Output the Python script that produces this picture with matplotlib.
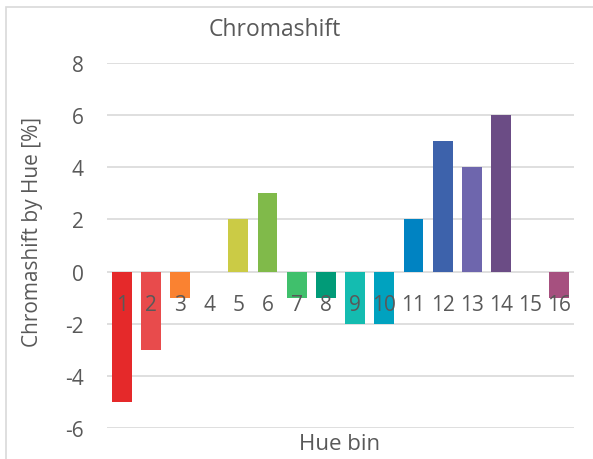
import matplotlib
matplotlib.use("Agg")
import matplotlib.pyplot as plt
from matplotlib.patches import Rectangle

# Daten aus dem Diagramm
hue_bins = list(range(1, 17))
chromashift = [-5, -3, -1, 0, 2, 3, -1, -1, -2, -2, 2, 5, 4, 6, 0, -1]
bar_colors = ['#E5292A', '#E84B4C', '#FA8231', '#F4B400', '#CBCB45', '#80BA4A',
              '#40C06C', '#019B78', '#14BCB0', '#00A2BF', '#0083C2', '#3D62AB',
              '#6E66AD', '#6B4C85', '#8E4F86', '#A6507F']
y_ticks = [-6, -4, -2, 0, 2, 4, 6, 8]

plt.rcParams['font.family'] = ['Open Sans', 'DejaVu Sans']
plt.rcParams['axes.unicode_minus'] = False
txt = '#595959'
grid_c = '#d9d9d9'

fig = plt.figure(figsize=(5.93, 4.60), dpi=100)
ax = fig.add_axes([107/593, 1 - 429/460, (574 - 107)/593, (429 - 64)/460])

# Gitterlinien hinter den Balken
for t in y_ticks:
    ax.axhline(t, color=grid_c, lw=1.2, zorder=0)

ax.bar(hue_bins, chromashift, width=0.68, color=bar_colors, zorder=1)

ax.set_xlim(0.5, 16.5)
ax.set_ylim(-6, 8)
ax.set_yticks(y_ticks)
ax.set_xticks(hue_bins)
ax.set_xticklabels([str(h) for h in hue_bins])

for s in ax.spines.values():
    s.set_visible(False)
ax.spines['bottom'].set_position(('data', 0))

ax.tick_params(axis='x', length=0, pad=16, labelsize=15, labelcolor=txt)
ax.tick_params(axis='y', length=0, pad=17, labelsize=15, labelcolor=txt)
for lab in ax.get_xticklabels():
    lab.set_zorder(5)

fig.text(275/593, 1 - 30/460, 'Chromashift', ha='center', va='center',
         fontsize=16.5, color=txt)
fig.text(340/593, 1 - 445/460, 'Hue bin', ha='center', va='center',
         fontsize=16, color=txt)
fig.text(33/593, 1 - 232/460, 'Chromashift by Hue [%]', ha='center', va='center',
         rotation=90, fontsize=15, color=txt)

# Rahmen des Diagrammbereichs
fig.patches.append(Rectangle((6/593, -0.1), 1.2, 1 - 8/460 + 0.1,
                             transform=fig.transFigure, fill=False,
                             edgecolor=grid_c, lw=1.2, clip_on=False))

fig.savefig('out.png', dpi=100)
